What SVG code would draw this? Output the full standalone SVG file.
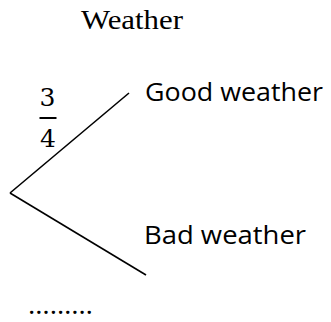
<svg xmlns="http://www.w3.org/2000/svg" width="331" height="322" viewBox="0 0 331 322">
<style>
.title{font-family:"Liberation Serif","Times New Roman",serif;font-size:28px;fill:#000}
.lbl{font-family:"Open Sans","Noto Sans",sans-serif;font-size:25px;fill:#000}
.frac{font-family:"DejaVu Serif","Liberation Serif",serif;font-size:25px;fill:#000}
.edge{stroke:#000;stroke-width:1.6;fill:none}
</style>
<rect width="331" height="322" fill="#fff"/>
<g id="title"><text class="title" x="81" y="29" textLength="102" lengthAdjust="spacingAndGlyphs">Weather</text></g>
<g id="connectors">
<line class="edge" x1="129" y1="93" x2="10" y2="193"/>
<line class="edge" x1="10" y1="193" x2="146" y2="275"/>
</g>
<g id="prob">
<text class="frac" x="47.5" y="106" text-anchor="middle">3</text>
<line x1="39.5" y1="118" x2="56.5" y2="118" stroke="#000" stroke-width="2"/>
<text class="frac" x="48" y="147" text-anchor="middle">4</text>
</g>
<g id="good"><text class="lbl" x="145" y="101" textLength="178" lengthAdjust="spacingAndGlyphs">Good weather</text></g>
<g id="bad"><text class="lbl" x="144" y="244" textLength="162" lengthAdjust="spacingAndGlyphs">Bad weather</text></g>
<g id="blank"><text class="lbl" x="28" y="314" font-size="13" textLength="65" lengthAdjust="spacingAndGlyphs">………</text></g>
</svg>
